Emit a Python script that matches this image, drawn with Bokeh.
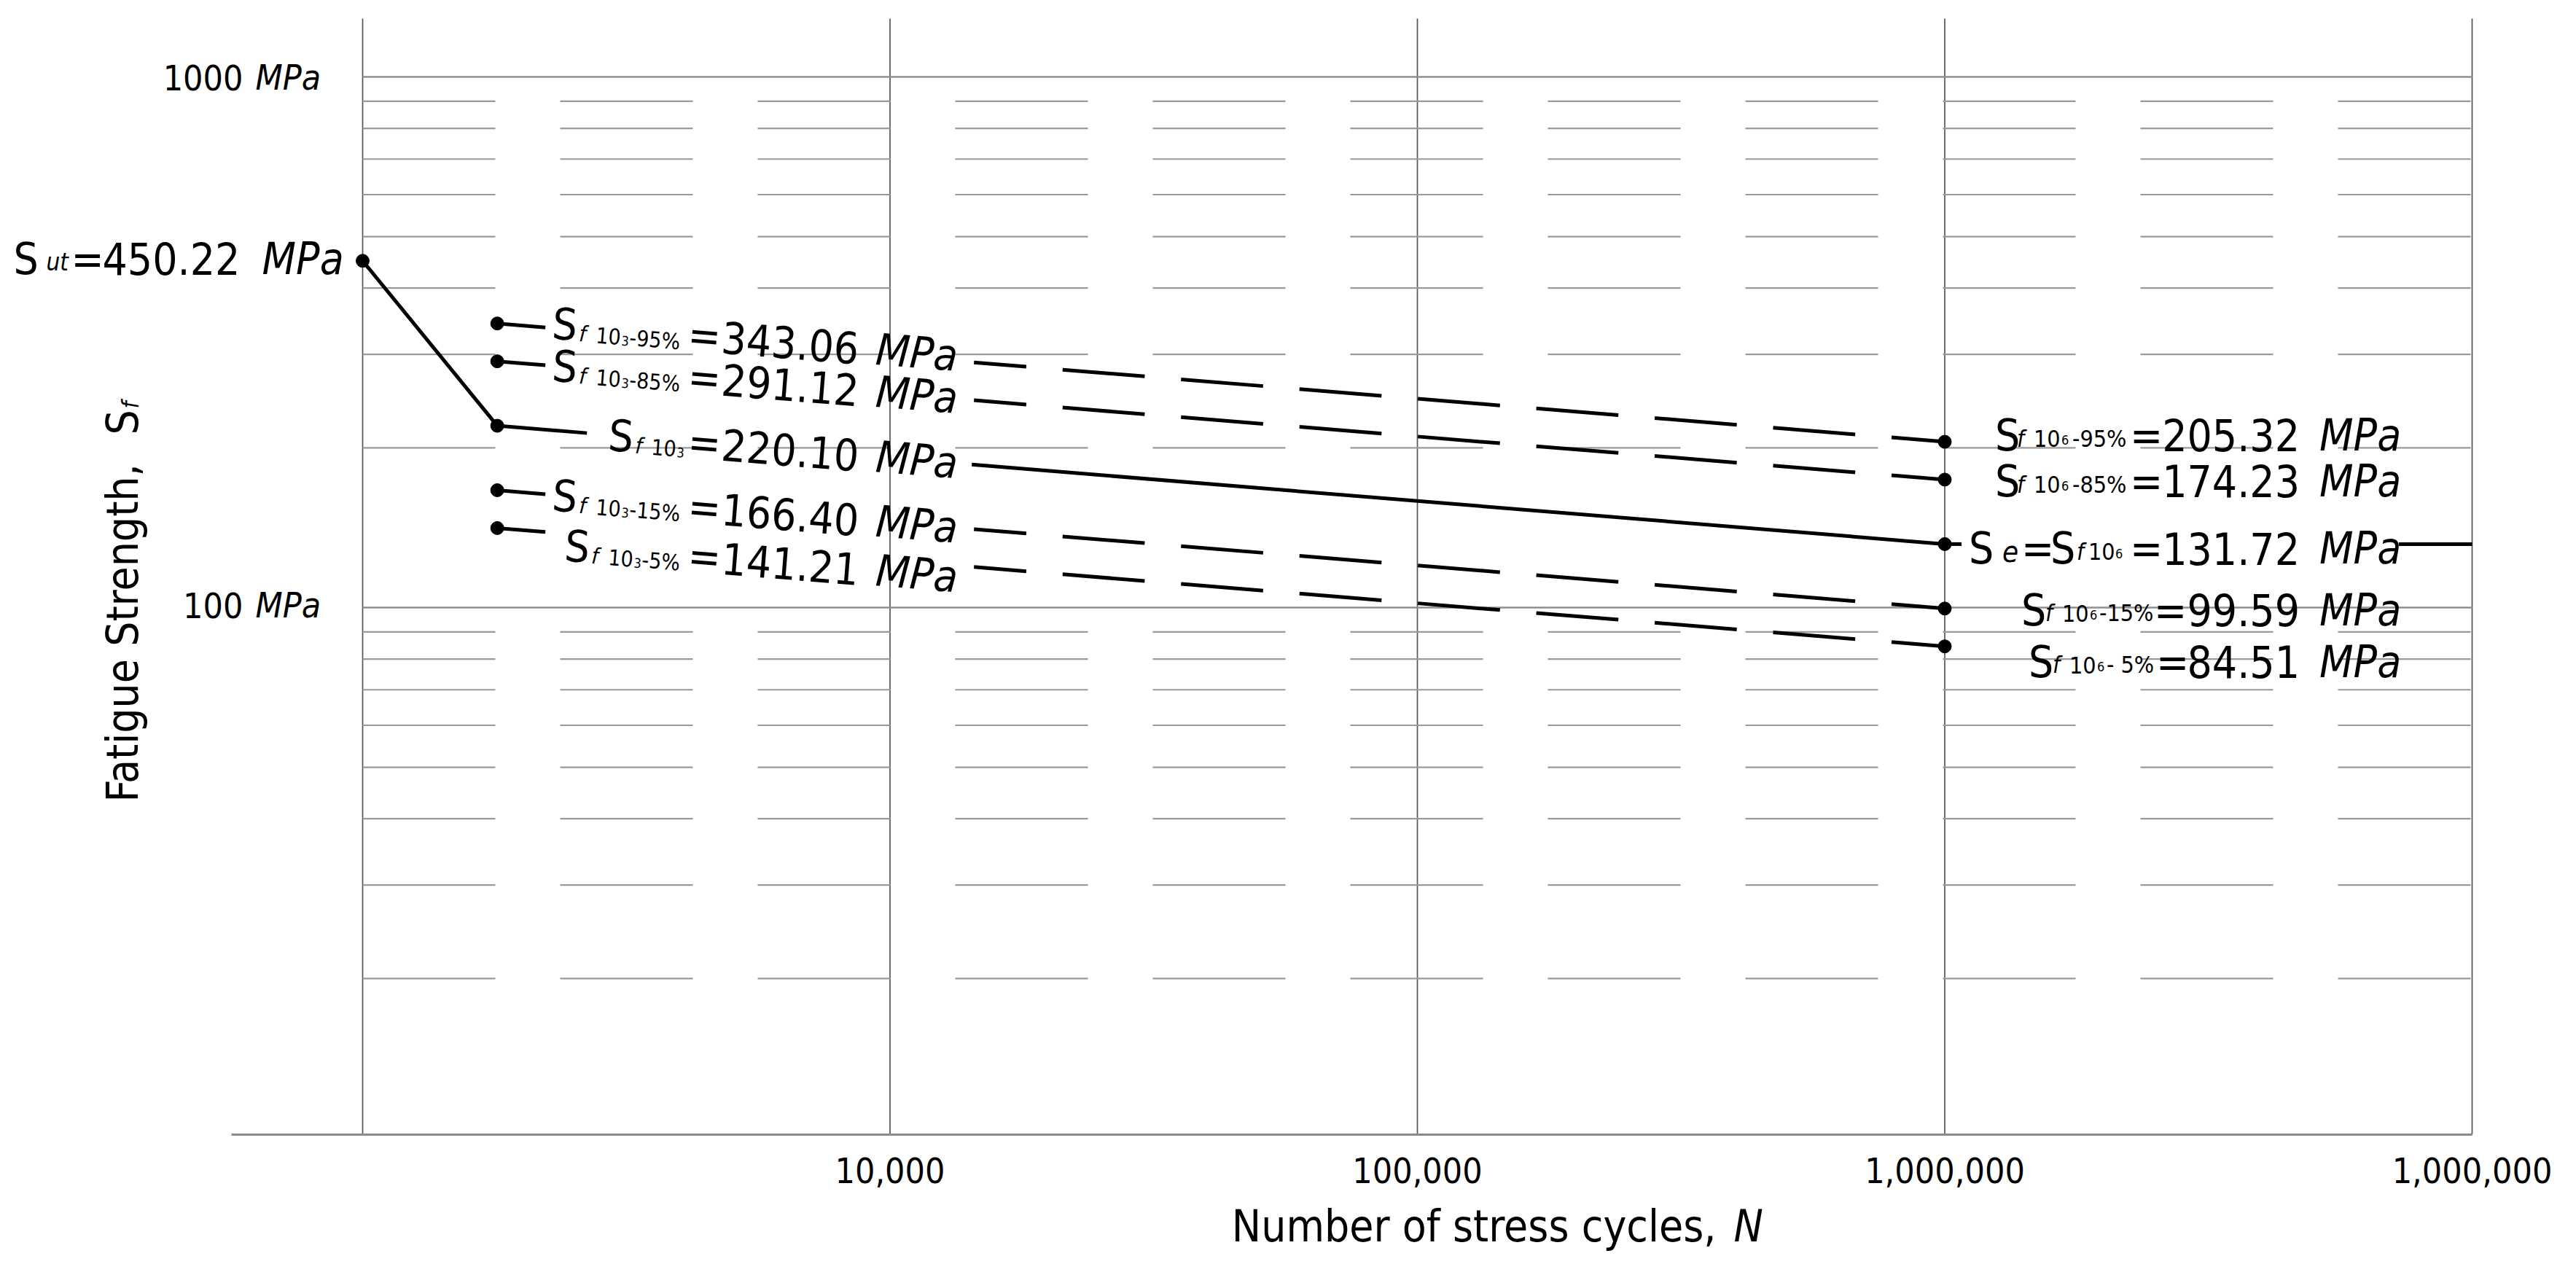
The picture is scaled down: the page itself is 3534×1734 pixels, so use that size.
import math
from bokeh.plotting import figure
from bokeh.models import Range1d, Label
from bokeh.embed import file_html
from bokeh.resources import INLINE

# ---------------- data ----------------
N_SUT = 1_000            # S_ut point (left vertical line)
N_LOW = 1_800            # column labelled "10^3", as drawn
N_HIGH = 1_000_000       # column labelled "10^6"
N_END = 10_000_000       # endurance line runs to here
S_UT = 450.22
LEVELS = ["95%", "85%", "50%", "15%", "5%"]
S_LOW = [343.06, 291.12, 220.10, 166.40, 141.21]
S_HIGH = [205.32, 174.23, 131.72, 99.59, 84.51]
X_TICKS = [10_000, 100_000, 1_000_000, 10_000_000]
X_TICK_LABELS = ["10,000", "100,000", "1,000,000", "1,000,000"]
N_GRID = [1_000, 10_000, 100_000, 1_000_000, 10_000_000]
S_MAJOR = [100, 1000]
S_MAJOR_LABELS = ["100", "1000"]
S_MINOR = [20, 30, 40, 50, 60, 70, 80, 90, 200, 300, 400, 500, 600, 700, 800, 900]

# ---------------- layout / style ----------------
W, H = 3518, 1718
X_LO, X_HI = 2.31306, 7.17553      # log10 of x range (whole canvas)
Y_LO, Y_HI = 0.78434, 3.14423      # log10 of y range (whole canvas)
PXD_X = W / (X_HI - X_LO)
AXIS_S = 10.16        # level of the bottom axis line
AXIS_N0 = 564         # left end of the bottom axis line
GRID_TOP = 1288       # top end of the vertical grid lines

FONT = "DejaVu Sans Condensed"
MAIN = 60
TICK, TITLE = 48, 60
BASE_FIX = 0.17       # baseline correction, in em
TXT_SLOPE = 0.080
ANG_LOW = -math.atan(TXT_SLOPE)
LINE_W = 5

p = figure(width=W, height=H, x_axis_type="log", y_axis_type="log",
           x_range=Range1d(10 ** X_LO, 10 ** X_HI),
           y_range=Range1d(10 ** Y_LO, 10 ** Y_HI),
           x_axis_location=None, y_axis_location=None,
           toolbar_location=None, output_backend="svg", min_border=0)
p.outline_line_color = None
p.title.visible = False
p.background_fill_color = "white"
p.border_fill_color = "white"
for gr in p.grid:
    gr.visible = False

# vertical grid lines (decades)
ng = len(N_GRID)
p.segment(x0=N_GRID, x1=N_GRID, y0=[AXIS_S] * ng, y1=[GRID_TOP] * ng,
          line_color="#555555", line_width=1.7)
# horizontal grid lines, from the first to the last decade line
nm = len(S_MAJOR)
p.segment(x0=[N_GRID[0]] * nm, x1=[N_GRID[-1]] * nm, y0=S_MAJOR, y1=S_MAJOR,
          line_color="#8f8f8f", line_width=2.5)
nn = len(S_MINOR)
p.segment(x0=[N_GRID[0]] * nn, x1=[N_GRID[-1]] * nn, y0=S_MINOR, y1=S_MINOR,
          line_color="#9a9a9a", line_width=2.2, line_dash="182 89")
# bottom axis line
p.segment(x0=[AXIS_N0], x1=[N_GRID[-1]], y0=[AXIS_S], y1=[AXIS_S],
          line_color="#8a8a8a", line_width=3)


# ---------------- curves ----------------
def along(n0, s0, n1, s1, px):
    l0, l1 = math.log10(n0), math.log10(n1)
    lx = l0 + px / PXD_X
    t = (lx - l0) / (l1 - l0)
    ls = math.log10(s0) + t * (math.log10(s1) - math.log10(s0))
    return 10 ** lx, 10 ** ls


def piece(n0, s0, n1, s1, a=0, b=None, **kw):
    xa, ya = along(n0, s0, n1, s1, a) if a else (n0, s0)
    xb, yb = along(n0, s0, n1, s1, b) if b is not None else (n1, s1)
    p.line([xa, xb], [ya, yb], line_color="black", line_width=LINE_W, **kw)


MED = LEVELS.index("50%")
piece(N_SUT, S_UT, N_LOW, S_LOW[MED])
piece(N_LOW, S_LOW[MED], N_HIGH, S_HIGH[MED], 0, 123)
piece(N_LOW, S_LOW[MED], N_HIGH, S_HIGH[MED], 651)
piece(N_HIGH, S_HIGH[MED], N_END, S_HIGH[MED], 0, 23)
piece(N_HIGH, S_HIGH[MED], N_END, S_HIGH[MED], 623)
for i, lvl in enumerate(LEVELS):
    if i == MED:
        continue
    piece(N_LOW, S_LOW[i], N_HIGH, S_HIGH[i], 0, 66)
    piece(N_LOW, S_LOW[i], N_HIGH, S_HIGH[i], 654, line_dash="113 50", line_dash_offset=41)

p.scatter([N_SUT] + [N_LOW] * len(S_LOW) + [N_HIGH] * len(S_HIGH),
          [S_UT] + S_LOW + S_HIGH, size=18, color="black")


# ---------------- texts ----------------
def txt(n, s, dx, dy, text, size, style="normal", align="left", angle=0.0):
    fix = BASE_FIX * size
    dx -= fix * math.sin(angle)
    dy -= fix * math.cos(angle)
    p.add_layout(Label(x=n, y=s, x_offset=dx, y_offset=-dy, text=text,
                       text_font=FONT, text_font_size=f"{size}px",
                       text_font_style=style, text_align=align,
                       text_baseline="alphabetic", angle=angle,
                       text_color="black"))


KIND_LOW = {"m": (MAIN, "normal", 0), "mi": (MAIN, "italic", 0),
            "s": (30, "normal", 6), "si": (30, "italic", 6),
            "ss": (18, "normal", 9)}
KIND_HIGH = {"m": (MAIN, "normal", 0), "mi": (MAIN, "italic", 0),
             "s": (32, "normal", 0), "si": (32, "italic", 0),
             "ss": (18, "normal", 0), "se": (40, "italic", 0)}
KIND_SUT = {"m": (MAIN, "normal", 0), "mi": (MAIN, "italic", 0),
            "si": (33, "italic", 0)}


def rich(n, s, dx0, dy0, parts, kinds, slope=0.0, angle=0.0):
    for text, dx, kind, *al in parts:
        size, style, drop = kinds[kind]
        dy = dy0 + (dx - dx0) * slope + drop
        txt(n, s, dx, dy, text, size, style, al[0] if al else "left", angle)


# labels at the "10^3" column
LOW_LAYOUT = {
    "95%": dict(S=75, dy=10, f=112, ten=135, exp=170, pct=181),
    "85%": dict(S=75, dy=16, f=112, ten=135, exp=170, pct=181),
    "50%": dict(S=152, dy=23, f=189, ten=211, exp=246, pct=None),
    "15%": dict(S=75, dy=17, f=112, ten=135, exp=170, pct=181),
    "5%": dict(S=92, dy=34, f=129, ten=152, exp=187, pct=198),
}
LOW_EQ, LOW_VAL, LOW_MPA = 261, 307, 519
for i, lvl in enumerate(LEVELS):
    L = LOW_LAYOUT[lvl]
    parts = [("S", L["S"], "m"), ("f", L["f"], "si"), ("10", L["ten"], "s"),
             ("3", L["exp"], "ss")]
    if L["pct"] is not None:
        parts.append(("-" + lvl, L["pct"], "s"))
    parts += [("=", LOW_EQ, "m"), (f"{S_LOW[i]:.2f}", LOW_VAL, "m"), ("MPa", LOW_MPA, "mi")]
    rich(N_LOW, S_LOW[i], L["S"], L["dy"], parts, KIND_LOW, TXT_SLOPE, ANG_LOW)

# labels at the "10^6" column
HIGH_LAYOUT = {
    "95%": dict(S=69, dy=1, f=99, ten=122, exp=160, pct=175, eq=254, ptxt="-95%"),
    "85%": dict(S=69, dy=12, f=99, ten=122, exp=160, pct=175, eq=254, ptxt="-85%"),
    "50%": dict(S=145, dy=16, f=181, ten=197, exp=234, pct=None, eq=254, ptxt=None),
    "15%": dict(S=105, dy=12, f=138, ten=161, exp=199, pct=212, eq=287, ptxt="-15%"),
    "5%": dict(S=115, dy=31, f=148, ten=171, exp=209, pct=222, eq=290, ptxt="- 5%"),
}
HIGH_VAL_END, HIGH_MPA = 487, 514
for i, lvl in enumerate(LEVELS):
    L = HIGH_LAYOUT[lvl]
    parts = []
    if L["pct"] is None:
        parts += [("S", 33, "m"), ("e", 79, "se"), ("=", 105, "m")]
    parts += [("S", L["S"], "m"), ("f", L["f"], "si"), ("10", L["ten"], "s"),
              ("6", L["exp"], "ss")]
    if L["pct"] is not None:
        parts.append((L["ptxt"], L["pct"], "s"))
    parts += [("=", L["eq"], "m"), (f"{S_HIGH[i]:.2f}", HIGH_VAL_END, "m", "right"),
              ("MPa", HIGH_MPA, "mi")]
    rich(N_HIGH, S_HIGH[i], L["S"], L["dy"], parts, KIND_HIGH)

# S_ut label
rich(N_SUT, S_UT, -479, 7,
     [("S", -479, "m"), ("ut", -434, "si"), ("=", -400, "m"),
      (f"{S_UT:.2f}", -357, "m"), ("MPa", -138, "mi")], KIND_SUT)

# y tick labels
for s, lab in zip(S_MAJOR, S_MAJOR_LABELS):
    dy = 9 if s == 1000 else 5
    txt(N_GRID[0], s, -164, dy, lab, TICK, align="right")
    txt(N_GRID[0], s, -147, dy, "MPa", TICK, "italic")

# x tick labels
for t, lab in zip(X_TICKS, X_TICK_LABELS):
    txt(t, AXIS_S, 0, 57, lab, TICK, align="center")

# axis titles
txt(N_GRID[2], AXIS_S, 410, 136, "Number of stress cycles,", TITLE, align="right")
txt(N_GRID[2], AXIS_S, 434, 136, "N", TITLE, "italic")
txt(N_GRID[0], 100, -319, 267, "Fatigue Strength,", TITLE, angle=math.pi / 2)
txt(N_GRID[0], 100, -319, 267 - 504, "S", TITLE, angle=math.pi / 2)
txt(N_GRID[0], 100, -313, 267 - 540, "f", 32, "italic", angle=math.pi / 2)

open("out.html", "w").write(file_html(p, INLINE))
